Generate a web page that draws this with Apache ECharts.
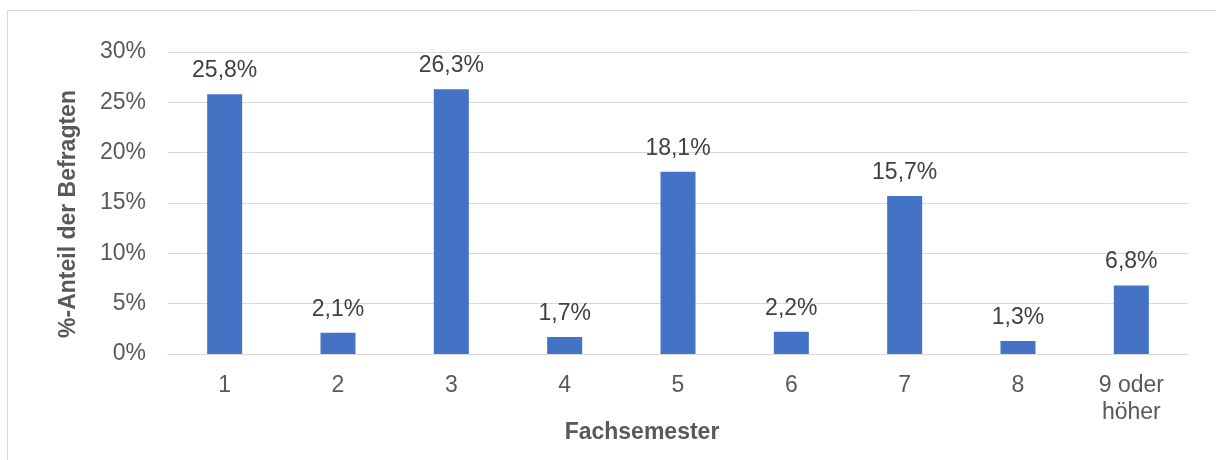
<!DOCTYPE html>
<html>
<head>
<meta charset="utf-8">
<script src="https://cdn.jsdelivr.net/npm/echarts@6/dist/echarts.min.js"></script>
<style>
  html, body { margin: 0; padding: 0; background: #fff; }
  #chart { width: 1216px; height: 460px; }
</style>
</head>
<body>
<div id="chart"></div>
<script>
// Fachsemester der Befragten
const semester = ['1', '2', '3', '4', '5', '6', '7', '8', '9 oder\nhöher'];
const anteil = [25.8, 2.1, 26.3, 1.7, 18.1, 2.2, 15.7, 1.3, 6.8];
const yTicks = [0, 5, 10, 15, 20, 25, 30];

const FONT = 'Liberation Sans, Arial, sans-serif';
const myChart = echarts.init(document.getElementById('chart'));

myChart.setOption({
  animation: false,
  textStyle: { fontFamily: FONT },
  grid: { left: 168, right: 28, top: 52, bottom: 106 },
  graphic: [
    {
      // Rahmen des Diagrammbereichs
      type: 'rect',
      shape: { x: 7.5, y: 10.5, width: 1400, height: 600 },
      style: { fill: 'none', stroke: '#d9d9d9', lineWidth: 1 },
      silent: true
    },
    {
      type: 'text',
      x: 642, y: 433,
      style: {
        text: 'Fachsemester', font: 'bold 23px ' + FONT, fill: '#595959',
        textAlign: 'center', textVerticalAlign: 'middle'
      }
    },
    {
      type: 'text',
      x: 69, y: 214, rotation: Math.PI / 2,
      style: {
        text: '%-Anteil der Befragten', font: 'bold 23px ' + FONT, fill: '#595959',
        textAlign: 'center', textVerticalAlign: 'middle'
      }
    }
  ],
  xAxis: {
    type: 'category',
    data: semester,
    axisLine: { lineStyle: { color: '#d9d9d9', width: 1 } },
    axisTick: { show: false },
    axisLabel: {
      color: '#595959', fontSize: 23, margin: 18, lineHeight: 27,
      interval: 0
    }
  },
  yAxis: {
    type: 'value',
    min: yTicks[0],
    max: yTicks[yTicks.length - 1],
    interval: 5,
    axisLine: { show: false },
    axisTick: { show: false },
    splitLine: { lineStyle: { color: '#d9d9d9', width: 1 } },
    axisLabel: { color: '#595959', fontSize: 23, margin: 22, formatter: '{value}%' }
  },
  series: [
    {
      type: 'bar',
      data: anteil,
      barWidth: 35,
      itemStyle: { color: '#4472c4' },
      label: {
        show: true,
        position: 'top',
        distance: 12,
        color: '#404040',
        fontSize: 23,
        formatter: p => p.value.toFixed(1).replace('.', ',') + '%'
      }
    }
  ]
});
</script>
</body>
</html>
